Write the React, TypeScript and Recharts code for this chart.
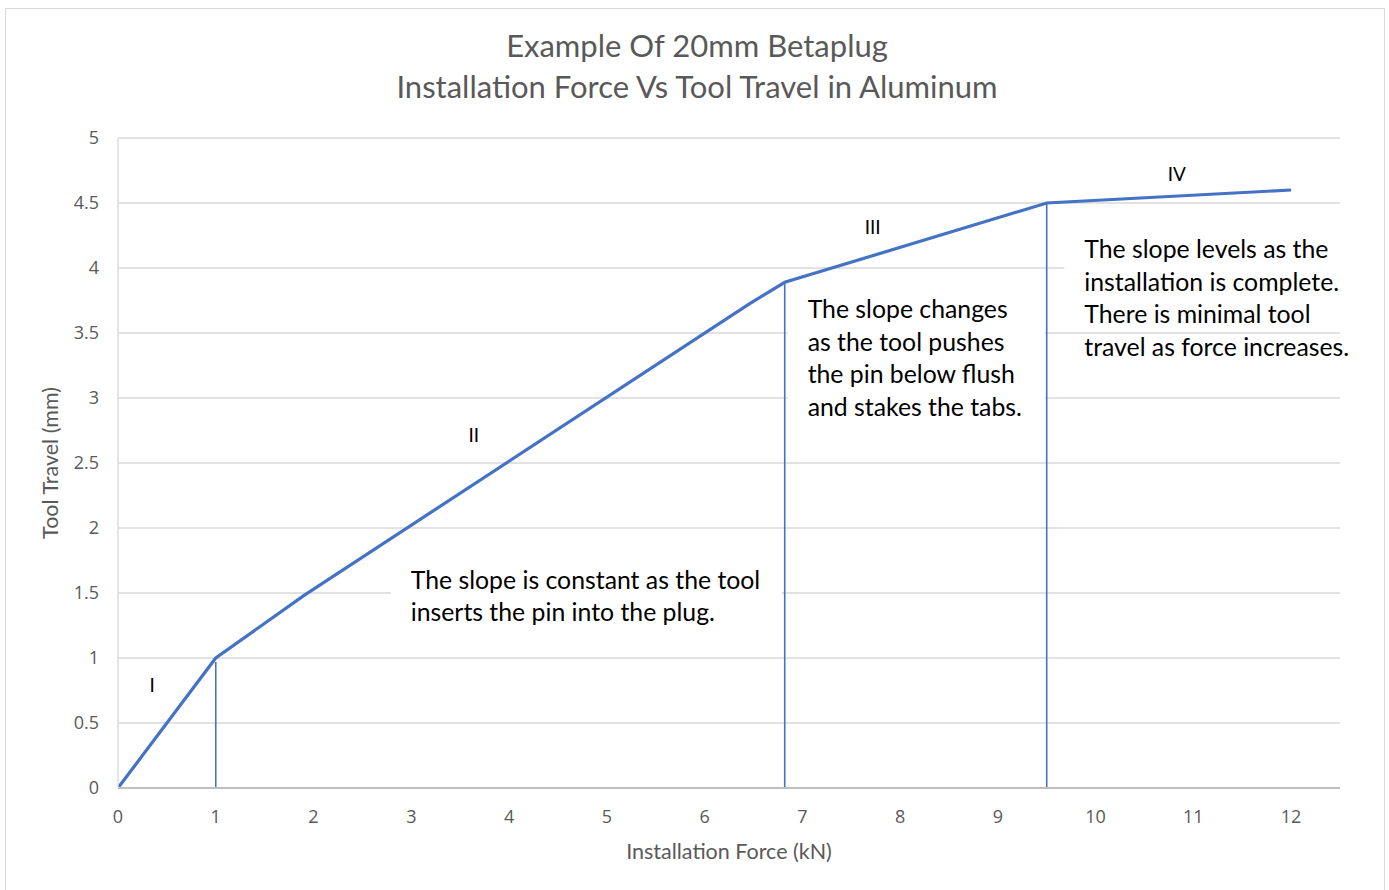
import React from 'react';
import {
  LineChart,
  Line,
  XAxis,
  YAxis,
  CartesianGrid,
  ReferenceArea,
  ReferenceDot,
} from 'recharts';

// main curve: installation force (kN) vs tool travel (mm)
const forceKn = [0, 1, 1.9, 6.45, 6.82, 9.5, 12];
const travelMm = [0, 1, 1.48, 3.72, 3.89, 4.5, 4.6];

// vertical drop lines marking the phase boundaries
const dropForce = [1, 6.82, 9.5];
const dropTop = [0.97, 3.9, 4.5];

const xTicks = [0, 1, 2, 3, 4, 5, 6, 7, 8, 9, 10, 11, 12];
const yTicks = [0, 0.5, 1, 1.5, 2, 2.5, 3, 3.5, 4, 4.5, 5];

// phase numerals and where they sit
const phaseNames = ['I', 'II', 'III', 'IV'];
const phaseX = [0.35, 3.64, 7.72, 10.83];
const phaseY = [0.79, 2.71, 4.31, 4.72];

// note boxes
const noteLines = [
  ['The slope is constant as the tool', 'inserts the pin into the plug.'],
  ['The slope changes', 'as the tool pushes', 'the pin below flush', 'and stakes the tabs.'],
  ['The slope levels as the', 'installation is complete.', 'There is minimal tool', 'travel as force increases.'],
];
const noteLeft = [2.79, 6.85, 9.68];
const noteRight = [6.79, 9.48, 12.5];
const noteBottom = [1.22, 2.75, 3.56];
const noteTop = [1.75, 3.83, 4.29];

const BLUE = '#4472C4';
const GREY = '#595959';
const TEXT_FONT = 'Lato, "Open Sans", sans-serif';

const curve = forceKn.map((x, i) => ({ x, y: travelMm[i] }));
const drops = dropForce.map((x, i) => [
  { x, y: 0 },
  { x, y: dropTop[i] },
]);

function NoteText(props: any) {
  const { viewBox, lines } = props;
  if (!viewBox) return null;
  const left = viewBox.x + 20;
  const top = viewBox.y + 18.5;
  return (
    <text x={left} y={top} fontFamily={TEXT_FONT} fontSize={24.8} fill="#000">
      {lines.map((ln: string, i: number) => (
        <tspan key={i} x={left} y={top + i * 32.5} dominantBaseline="central">
          {ln}
        </tspan>
      ))}
    </text>
  );
}

export default function App() {
  return (
    <div
      style={{
        position: 'absolute',
        left: 0,
        top: 0,
        width: 1389,
        height: 890,
        background: '#fff',
        overflow: 'hidden',
      }}
    >
      <div
        style={{
          position: 'absolute',
          left: 5,
          top: 8,
          width: 1378,
          height: 900,
          border: '1px solid #D9D9D9',
        }}
      />
      <div
        style={{
          position: 'absolute',
          left: 0,
          width: 1394,
          top: 25,
          textAlign: 'center',
          fontFamily: TEXT_FONT,
          fontSize: 31,
          lineHeight: '41px',
          color: GREY,
        }}
      >
        Example Of 20mm Betaplug
        <br />
        Installation Force Vs Tool Travel in Aluminum
      </div>
      <div style={{ position: 'absolute', left: 0, top: 0 }}>
        <LineChart
          width={1389}
          height={890}
          margin={{ top: 138, right: 49, left: 0, bottom: 0 }}
        >
          <CartesianGrid vertical={false} stroke="#D9D9D9" strokeWidth={1.3} />
          <XAxis
            dataKey="x"
            type="number"
            domain={[0, 12.5]}
            ticks={xTicks}
            allowDataOverflow
            height={102}
            tickLine={false}
            axisLine={{ stroke: '#BFBFBF', strokeWidth: 2 }}
            tickMargin={16}
            tick={{ fontSize: 18, fill: GREY, fontFamily: '"Open Sans", sans-serif' }}
            label={{
              content: (p: any) => {
                const vb = p.viewBox;
                return (
                  <text
                    x={vb.x + vb.width / 2}
                    y={vb.y + 63}
                    textAnchor="middle"
                    dominantBaseline="central"
                    fontFamily={TEXT_FONT}
                    fontSize={21.5}
                    fill={GREY}
                  >
                    Installation Force (kN)
                  </text>
                );
              },
            }}
          />
          <YAxis
            type="number"
            domain={[0, 5]}
            ticks={yTicks}
            width={118}
            tickLine={false}
            axisLine={{ stroke: '#D9D9D9', strokeWidth: 1.3 }}
            tickMargin={13}
            tick={{ fontSize: 18, fill: GREY, fontFamily: '"Open Sans", sans-serif' }}
            label={{
              content: (p: any) => {
                const vb = p.viewBox;
                const cy = vb.y + vb.height / 2;
                return (
                  <text
                    x={50}
                    y={cy}
                    transform={`rotate(-90, 50, ${cy})`}
                    textAnchor="middle"
                    dominantBaseline="central"
                    fontFamily={TEXT_FONT}
                    fontSize={21.5}
                    fill={GREY}
                  >
                    Tool Travel (mm)
                  </text>
                );
              },
            }}
          />
          {noteLines.map((lines, i) => (
            <ReferenceArea
              key={`note-${i}`}
              x1={noteLeft[i]}
              x2={noteRight[i]}
              y1={noteBottom[i]}
              y2={noteTop[i]}
              fill="#fff"
              fillOpacity={1}
              stroke="none"
              ifOverflow="visible"
              label={(p: any) => <NoteText viewBox={p.viewBox} lines={lines} />}
            />
          ))}
          {drops.map((d, i) => (
            <Line
              key={`drop-${i}`}
              data={d}
              dataKey="y"
              stroke={BLUE}
              strokeWidth={1.6}
              dot={false}
              activeDot={false}
              isAnimationActive={false}
            />
          ))}
          <Line
            data={curve}
            dataKey="y"
            stroke={BLUE}
            strokeWidth={3.2}
            dot={false}
            activeDot={false}
            isAnimationActive={false}
          />
          {phaseNames.map((name, i) => (
            <ReferenceDot
              key={name}
              x={phaseX[i]}
              y={phaseY[i]}
              r={1}
              fill="none"
              stroke="none"
              label={{
                value: name,
                position: 'center',
                fontSize: 19,
                fill: '#000',
                fontFamily: TEXT_FONT,
              }}
            />
          ))}
        </LineChart>
      </div>
    </div>
  );
}
